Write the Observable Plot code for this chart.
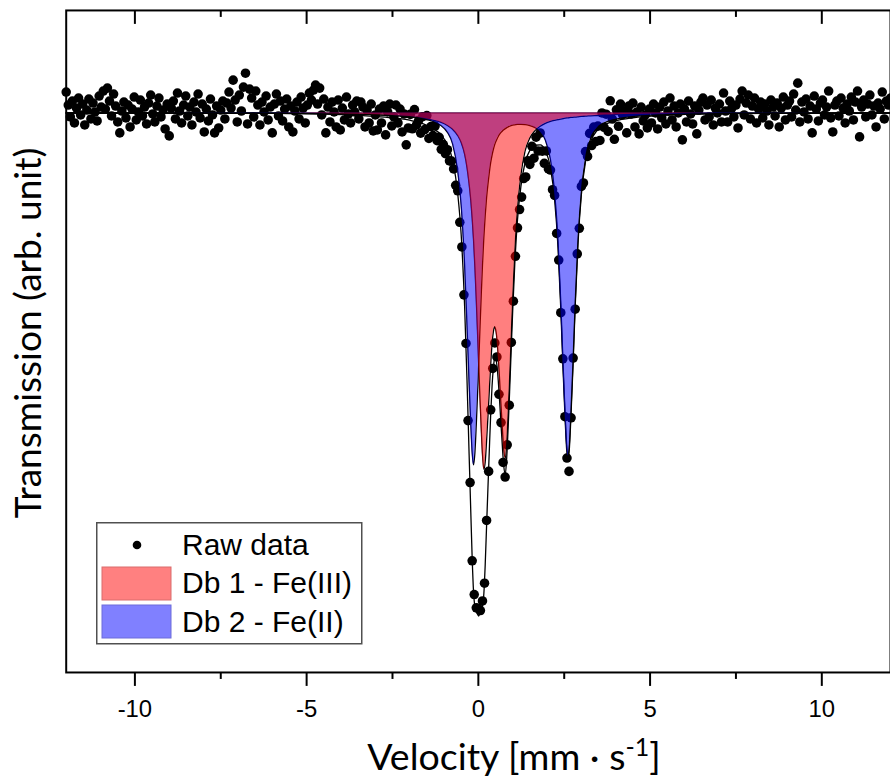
<!DOCTYPE html>
<html><head><meta charset="utf-8">
<script src="https://cdn.jsdelivr.net/npm/d3@7"></script>
<script src="https://cdn.jsdelivr.net/npm/@observablehq/plot@0.6"></script>
<style>
html,body{margin:0;padding:0;background:#fff;overflow:hidden;}
#wrap{position:relative;width:890px;height:781px;overflow:hidden;background:#fff;}
#wrap svg{position:absolute;left:0;top:0;}
</style></head><body><div id="wrap"></div>
<script>
// ---- data (transmission in %, baseline = 100) ----
const baseline = 100;
const rawVelocityStart = -12;   // mm/s, first channel
const rawVelocityStep = 0.06;   // mm/s per channel
const rawTransmission = [
100.21,100.08,99.96,100.12,99.90,100.05,100.15,99.98,100.09,99.88,
100.03,100.14,99.94,100.10,100.01,99.92,100.17,100.06,100.22,100.04,
100.25,100.12,99.97,100.19,100.07,99.91,99.80,100.02,100.11,99.95,
100.08,99.86,100.04,100.16,99.93,100.01,100.13,99.97,100.06,99.89,
100.10,100.18,99.99,99.91,100.07,100.15,99.96,100.03,99.84,100.09,
99.77,100.05,100.12,99.94,100.20,100.02,99.90,100.08,100.17,99.97,
100.06,99.88,100.11,100.01,100.19,99.95,100.09,99.81,100.04,99.92,
100.14,99.98,99.80,100.07,99.85,100.03,100.12,99.94,100.10,100.21,
100.05,100.33,100.13,99.91,100.18,100.02,100.26,100.40,99.89,100.24,
100.15,99.96,100.22,100.08,99.88,100.11,100.01,100.17,99.93,100.06,
99.80,100.09,100.19,99.97,100.12,99.92,100.04,100.14,99.86,100.07,
99.81,100.02,100.11,99.94,100.16,100.05,99.90,100.08,100.20,100.13,
100.23,100.28,100.09,100.25,99.98,100.14,99.80,100.06,99.91,100.11,
100.01,99.86,100.13,99.83,100.05,99.93,100.16,99.99,99.90,100.08,
100.01,100.12,99.94,100.11,100.06,99.86,100.03,99.90,100.09,99.82,
99.98,99.83,100.04,99.90,100.07,99.78,100.01,100.09,99.87,99.96,
100.08,99.90,100.04,99.81,99.99,99.68,99.85,
99.986,99.841,100.035,99.880,99.924,99.798,99.963,99.834,99.974,99.744,
99.864,99.773,99.869,99.722,99.756,99.635,99.683,99.592,99.631,99.519,
99.517,99.438,99.273,99.218,98.902,98.654,98.173,97.685,96.910,96.288,
95.502,95.163,95.030,95.022,95.002,95.098,95.277,95.907,96.400,97.018,
97.434,97.690,97.549,97.174,96.890,96.490,96.343,96.667,97.065,97.695,
98.109,98.560,98.847,99.030,99.155,99.342,99.358,99.521,99.484,99.665,
99.546,99.757,99.618,99.799,99.617,99.495,99.619,99.438,99.427,99.229,
99.172,98.790,98.523,97.994,97.531,96.949,96.534,96.400,96.938,97.538,
98.029,98.585,98.842,99.262,99.297,99.612,99.564,99.795,99.673,99.858,
99.713,99.868,99.724,100.000,99.856,99.988,99.815,100.122,99.939,99.736,
100.032,99.866,100.090,99.983,
100.02,99.80,100.07,99.99,100.10,99.86,100.01,99.79,100.06,99.92,
99.98,99.85,100.04,99.90,100.09,100.00,99.84,100.06,99.95,100.11,
99.89,100.02,100.15,99.93,100.07,99.86,100.00,100.09,99.73,100.04,
99.91,100.12,99.99,99.89,100.07,99.79,100.03,100.11,100.15,99.93,
100.08,99.96,100.13,99.88,100.05,100.00,100.09,99.91,100.20,100.02,
99.91,100.12,100.05,99.96,100.08,99.85,100.14,100.22,99.98,100.10,
100.18,99.94,100.07,100.15,99.90,100.04,100.11,99.95,100.09,100.02,
99.88,100.13,100.06,99.97,100.10,99.86,100.05,100.16,99.93,100.08,
100.12,99.96,100.19,100.03,100.30,99.91,100.11,100.01,100.14,99.94,
100.07,99.80,100.17,100.04,99.92,100.10,100.13,99.98,100.06,100.22,
99.95,99.81,100.08,100.12,99.97,100.15,100.05,99.90,100.09,100.02,
100.16,99.93,100.11,100.22,99.76,100.06,100.13,99.96,100.09,100.18,
99.98,100.07,99.86,100.10,100.04,100.21,99.94,100.12,100.08,100.15
];
const fitVelocity = [-12,-6,-4,-3,-2.5,-2,-1.6,-1.3,-1.1,-0.9,-0.75,-0.6,-0.5,-0.4,-0.33,-0.27,-0.22,-0.18,-0.14,-0.1,-0.06,-0.02,0.01,0.05,0.09,0.12,0.16,0.2,0.24,0.28,0.32,0.36,0.4,0.44,0.47,0.5,0.54,0.58,0.62,0.66,0.7,0.74,0.785,0.83,0.87,0.91,0.95,1.0,1.06,1.14,1.24,1.36,1.5,1.65,1.8,1.95,2.1,2.22,2.32,2.4,2.47,2.53,2.57,2.61,2.65,2.69,2.75,2.82,2.9,3.0,3.12,3.27,3.45,3.7,4.0,4.5,5.5,7,12];
const fitDb1 = [100,99.999,99.99,99.982,99.975,99.964,99.948,99.927,99.908,99.875,99.836,99.773,99.703,99.586,99.451,99.289,99.121,98.943,98.725,98.449,98.121,97.759,97.472,97.113,96.782,96.57,96.421,96.495,96.708,96.954,97.216,97.475,97.685,97.808,97.853,97.831,97.732,97.546,97.312,97.064,96.827,96.622,96.531,96.71,97.0,97.333,97.692,98.137,98.597,99.042,99.381,99.616,99.75,99.823,99.867,99.896,99.915,99.926,99.934,99.939,99.944,99.949,99.95,99.951,99.953,99.955,99.957,99.959,99.962,99.966,99.968,99.972,99.975,99.98,99.983,99.988,99.993,99.999,100];
const fitDb2 = [100,99.998,99.993,99.984,99.976,99.964,99.943,99.913,99.877,99.806,99.69,99.415,99.074,98.474,97.866,97.294,96.871,96.589,96.465,96.588,96.869,97.203,97.475,97.862,98.223,98.468,98.749,98.97,99.149,99.286,99.404,99.503,99.578,99.638,99.675,99.705,99.737,99.764,99.787,99.806,99.819,99.832,99.843,99.853,99.861,99.867,99.873,99.878,99.881,99.885,99.885,99.884,99.874,99.853,99.812,99.728,99.532,99.206,98.712,98.095,97.445,96.948,96.674,96.555,96.675,96.95,97.448,98.1,98.719,99.216,99.544,99.744,99.845,99.906,99.938,99.964,99.985,99.995,100];
const fitTotal = [100,99.997,99.983,99.966,99.951,99.928,99.891,99.84,99.785,99.681,99.526,99.188,98.777,98.06,97.317,96.583,95.992,95.532,95.19,95.037,94.99,94.962,94.947,94.975,95.005,95.038,95.17,95.465,95.857,96.24,96.62,96.978,97.263,97.446,97.528,97.536,97.469,97.31,97.099,96.87,96.646,96.454,96.374,96.563,96.861,97.2,97.565,98.015,98.478,98.927,99.266,99.5,99.624,99.676,99.679,99.624,99.447,99.132,98.646,98.034,97.389,96.897,96.624,96.506,96.628,96.905,97.405,98.059,98.681,99.182,99.512,99.716,99.82,99.886,99.921,99.952,99.978,99.994,100];
const majorTicks = [-10, -5, 0, 5, 10];
const minorTicks = [-7.5, -2.5, 2.5, 7.5];
const legendLabels = ["Raw data", "Db 1 - Fe(III)", "Db 2 - Fe(II)"];
const xTitle = "Velocity [mm · s";
const xTitleSup = "-1";
const xTitleEnd = "]";
const yTitle = "Transmission (arb. unit)";

// ---- tables ----
const raw = rawTransmission.map((t, i) => ({v: rawVelocityStart + i * rawVelocityStep, t}));
const fit = fitVelocity.map((v, i) => ({v, db1: fitDb1[i], db2: fitDb2[i], total: fitTotal[i], base: baseline}));

const lineOpts = {stroke: "black", strokeWidth: 1.3, curve: "monotone-x"};
const chart = Plot.plot({
  width: 894, height: 781,
  marginTop: 10, marginBottom: 106, marginLeft: 66, marginRight: 0,
  x: {domain: [-12, 12], label: null},
  y: {domain: [94.38, 101.03], axis: null},
  style: {fontFamily: "'Liberation Sans', Arial, sans-serif", fontSize: "24px", color: "black", background: "transparent", overflow: "visible"},
  marks: [
    Plot.dot(raw, {x: "v", y: "t", r: 4.8, fill: "black", stroke: null}),
    Plot.ruleY([baseline], {stroke: "black", strokeWidth: 1.2}),
    Plot.line(fit, {x: "v", y: "db1", ...lineOpts}),
    Plot.line(fit, {x: "v", y: "db2", ...lineOpts}),
    Plot.line(fit, {x: "v", y: "total", ...lineOpts}),
    Plot.areaY(fit, {x: "v", y1: "base", y2: "db2", fill: "rgb(0,0,255)", fillOpacity: 0.5, curve: "monotone-x"}),
    Plot.areaY(fit, {x: "v", y1: "base", y2: "db1", fill: "rgb(255,0,0)", fillOpacity: 0.5, curve: "monotone-x"}),
    Plot.frame({stroke: "black", strokeWidth: 2}),
    Plot.axisX(majorTicks, {anchor: "bottom", tickSize: 14, tickPadding: 14, strokeWidth: 2, tickFormat: d => String(d), label: null, fontSize: 24}),
    Plot.axisX(minorTicks, {anchor: "bottom", tickSize: 7, strokeWidth: 2, tickFormat: () => "", label: null}),
    Plot.axisX(majorTicks, {anchor: "top", tickSize: -13, strokeWidth: 2, tickFormat: () => "", label: null}),
    Plot.axisX(minorTicks, {anchor: "top", tickSize: -6, strokeWidth: 2, tickFormat: () => "", label: null})
  ]
});
const wrap = document.getElementById("wrap");
wrap.appendChild(chart);

// ---- axis titles (overlay) ----
const ov = d3.select(wrap).append("svg").attr("width", 890).attr("height", 781)
  .style("pointer-events", "none");
const xt = ov.append("text").attr("x", 514).attr("y", 770).attr("text-anchor", "middle")
  .attr("font-family", "Lato, 'Open Sans', sans-serif").attr("font-size", 37.5).attr("fill", "black");
xt.append("tspan").text(xTitle);
xt.append("tspan").attr("dy", -14).attr("font-size", 25).text(xTitleSup);
xt.append("tspan").attr("dy", 14).text(xTitleEnd);
ov.append("text").attr("transform", "translate(41,333) rotate(-90)").attr("text-anchor", "middle")
  .attr("font-family", "Lato, 'Open Sans', sans-serif").attr("font-size", 37).attr("fill", "black").text(yTitle);

// ---- legend (overlay) ----
const lg = ov.append("g").attr("transform", "translate(96,522)");
lg.append("rect").attr("x", 0.75).attr("y", 0.75).attr("width", 265).attr("height", 121)
  .attr("fill", "white").attr("stroke", "#505050").attr("stroke-width", 1.5);
lg.append("circle").attr("cx", 41).attr("cy", 23).attr("r", 4.3).attr("fill", "black");
lg.append("rect").attr("x", 6).attr("y", 45).attr("width", 69).attr("height", 33)
  .attr("fill", "#ff8080").attr("stroke", "#d96d6d").attr("stroke-width", 1);
lg.append("rect").attr("x", 6).attr("y", 83).attr("width", 69).attr("height", 33)
  .attr("fill", "#8080ff").attr("stroke", "#6d6dd9").attr("stroke-width", 1);
const ly = [33, 71, 110];
legendLabels.forEach((s, i) => {
  lg.append("text").attr("x", 86).attr("y", ly[i]).attr("font-family", "'Liberation Sans', Arial, sans-serif")
    .attr("font-size", 30).attr("fill", "black").text(s);
});
</script></body></html>
